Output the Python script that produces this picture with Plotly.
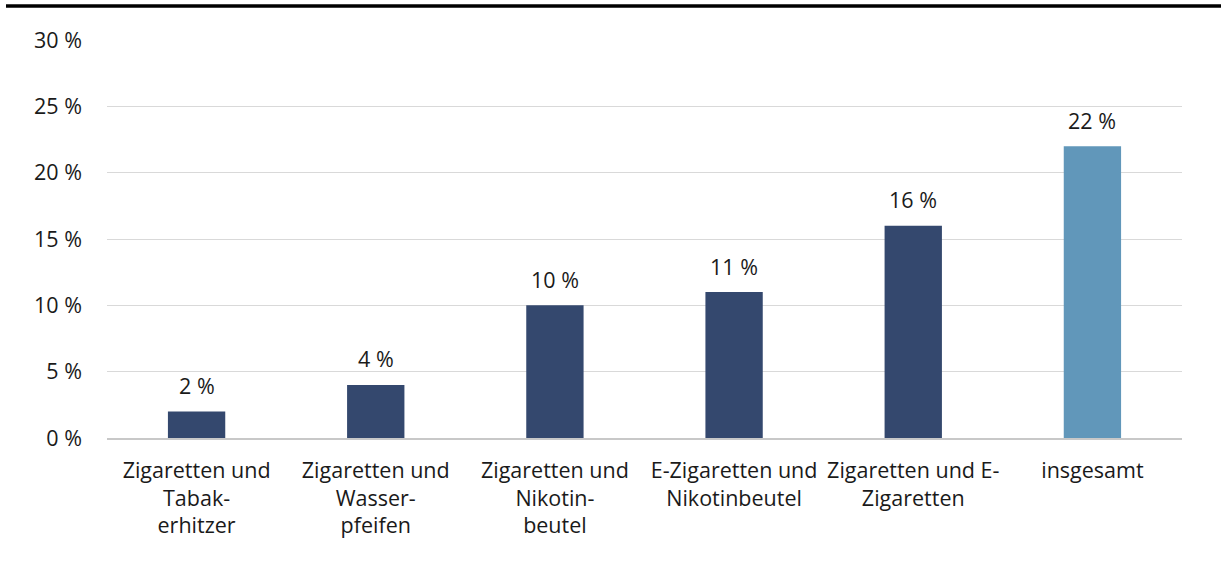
import plotly.graph_objects as go

categories = ["Zigaretten und<br>Tabak-<br>erhitzer", "Zigaretten und<br>Wasser-<br>pfeifen",
              "Zigaretten und<br>Nikotin-<br>beutel", "E-Zigaretten und<br>Nikotinbeutel",
              "Zigaretten und E-<br>Zigaretten", "insgesamt"]
values = [2, 4, 10, 11, 16, 22]
labels = ["2 %", "4 %", "10 %", "11 %", "16 %", "22 %"]
colors = ["#34486E", "#34486E", "#34486E", "#34486E", "#34486E", "#6197BA"]

FONT = "Open Sans"
FS = 21.5
fig = go.Figure(go.Bar(
    x=categories, y=values,
    marker=dict(color=colors, line=dict(width=0)),
    width=0.32, hoverinfo="skip",
))
for c, v, t in zip(categories, values, labels):
    fig.add_annotation(x=c, y=v, text=t, showarrow=False, yanchor="middle", yshift=26,
                       font=dict(family=FONT, size=FS, color="#1a1a1a"))

W, H = 1221, 564
L, R, T, B = 107, 39, 40, 126
pw = W - L - R
ph = H - T - B
fig.update_layout(
    width=W, height=H,
    margin=dict(l=L, r=R, t=T, b=B),
    plot_bgcolor="white", paper_bgcolor="white",
    font=dict(family=FONT, size=FS, color="#1a1a1a"),
    showlegend=False,
    xaxis=dict(showgrid=False, showline=True, linecolor="#c8c8c8", linewidth=1.5,
               ticks="", tickfont=dict(size=FS), ticklabelstandoff=12),
    yaxis=dict(range=[0, 30], dtick=5, ticksuffix=" %", showgrid=True, gridcolor="#d9d9d9",
               gridwidth=1, zeroline=False, showline=False, ticks="", ticklabelstandoff=24,
               tickfont=dict(size=FS)),
    shapes=[dict(type="line", xref="paper", yref="paper",
                 x0=(6 - L) / pw, x1=(W - L) / pw,
                 y0=(H - B - 6) / ph, y1=(H - B - 6) / ph,
                 line=dict(color="black", width=3.5))],
)

fig.write_html("out.html", config={"displayModeBar": False},
               post_script="document.body.style.margin='0';document.body.style.overflow='hidden';")
